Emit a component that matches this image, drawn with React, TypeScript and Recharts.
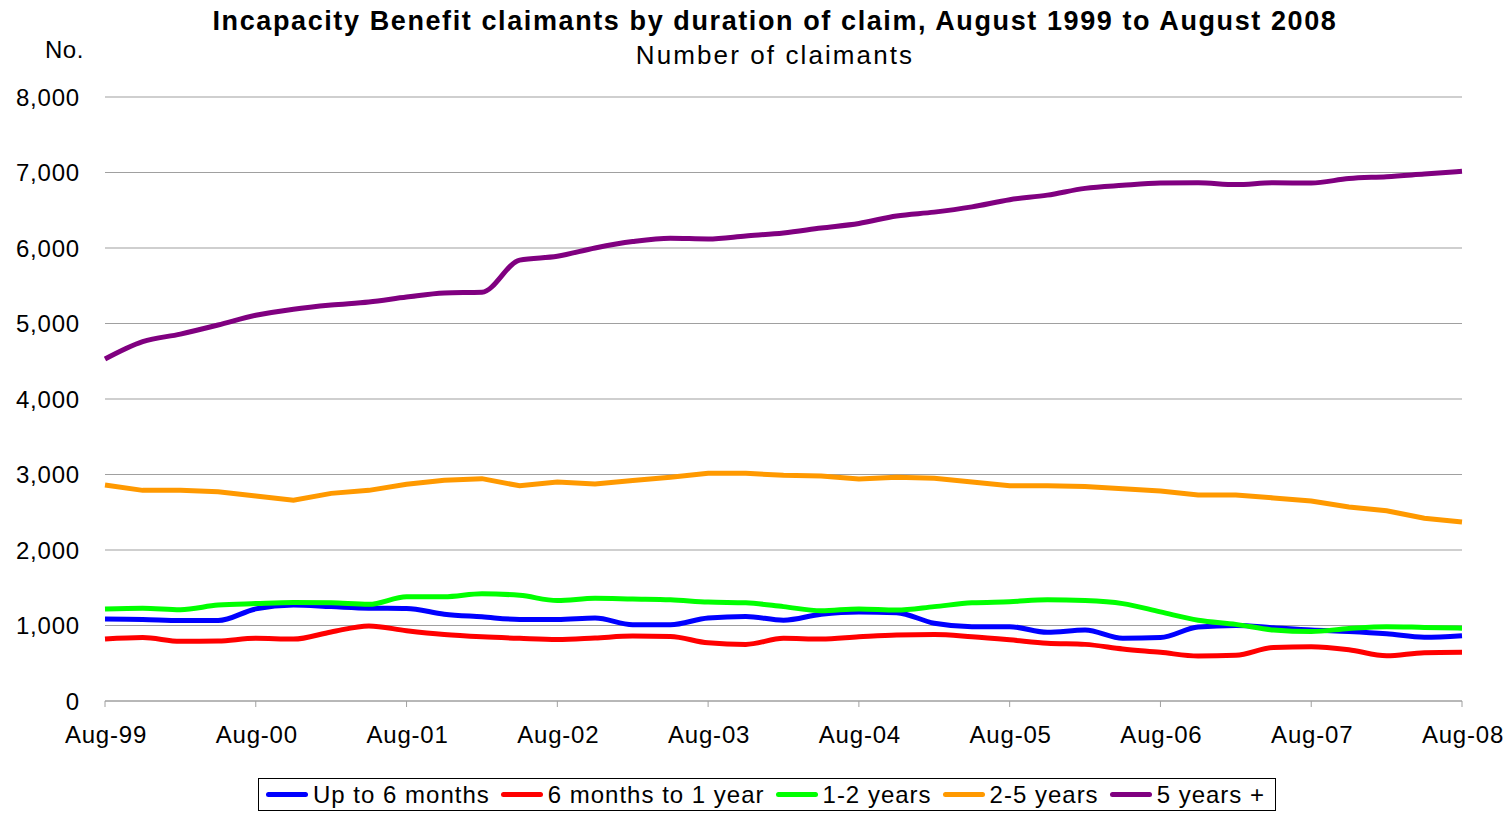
import React from "react";
import { LineChart, Line, XAxis, YAxis, CartesianGrid } from "recharts";

// quarterly, Aug 1999 to Aug 2008
const quarters = [
  "Aug-99", "Nov-99", "Feb-00", "May-00", "Aug-00", "Nov-00", "Feb-01", "May-01",
  "Aug-01", "Nov-01", "Feb-02", "May-02", "Aug-02", "Nov-02", "Feb-03", "May-03",
  "Aug-03", "Nov-03", "Feb-04", "May-04", "Aug-04", "Nov-04", "Feb-05", "May-05",
  "Aug-05", "Nov-05", "Feb-06", "May-06", "Aug-06", "Nov-06", "Feb-07", "May-07",
  "Aug-07", "Nov-07", "Feb-08", "May-08", "Aug-08",
];

const upTo6Months = [
  1085, 1080, 1065, 1065, 1220, 1270, 1250, 1230, 1225, 1150, 1115, 1080, 1080,
  1100, 1010, 1010, 1100, 1120, 1070, 1150, 1180, 1170, 1030, 985, 985, 910, 940,
  830, 840, 980, 1000, 970, 940, 920, 890, 845, 865,
];

const sixTo12Months = [
  820, 840, 790, 795, 830, 820, 915, 995, 930, 880, 850, 830, 815, 835, 860, 855,
  770, 750, 830, 820, 850, 875, 880, 850, 810, 765, 750, 690, 645, 595, 605, 710,
  720, 680, 600, 640, 645,
];

const oneToTwoYears = [
  1220, 1230, 1210, 1270, 1290, 1305, 1300, 1280, 1380, 1380, 1420, 1400, 1330,
  1360, 1350, 1340, 1310, 1300, 1250, 1195, 1220, 1205, 1250, 1300, 1315, 1340,
  1330, 1290, 1180, 1070, 1015, 940, 920, 960, 985, 975, 965,
];

const twoToFiveYears = [
  2860, 2790, 2790, 2770, 2715, 2660, 2750, 2790, 2870, 2925, 2945, 2850, 2900,
  2875, 2920, 2965, 3015, 3015, 2990, 2980, 2940, 2965, 2950, 2900, 2850, 2850,
  2840, 2810, 2780, 2730, 2730, 2690, 2650, 2570, 2520, 2420, 2370,
];

const fivePlusYears = [
  4530, 4760, 4860, 4980, 5110, 5190, 5245, 5285, 5350, 5405, 5415, 5840, 5890,
  6000, 6085, 6130, 6120, 6160, 6200, 6265, 6325, 6425, 6475, 6545, 6640, 6700,
  6790, 6830, 6860, 6865, 6840, 6865, 6860, 6920, 6945, 6980, 7015,
];

const yTicks = [0, 1000, 2000, 3000, 4000, 5000, 6000, 7000, 8000];

const SERIES = [
  { key: "a", name: "Up to 6 months", color: "#0000FF", values: upTo6Months, type: "monotone" },
  { key: "b", name: "6 months to 1 year", color: "#FF0000", values: sixTo12Months, type: "monotone" },
  { key: "c", name: "1-2 years", color: "#00FF00", values: oneToTwoYears, type: "monotone" },
  { key: "d", name: "2-5 years", color: "#FF9900", values: twoToFiveYears, type: "linear" },
  { key: "e", name: "5 years +", color: "#800080", values: fivePlusYears, type: "monotone" },
] as const;

const FONT = "'Liberation Sans', Arial, Helvetica, sans-serif";

export default function App() {
  const data = quarters.map((q, i) => {
    const row: Record<string, string | number> = { q };
    SERIES.forEach((s) => (row[s.key] = s.values[i]));
    return row;
  });

  return (
    <div style={{ position: "absolute", left: 0, top: 0, width: 1506, height: 815, background: "#fff", fontFamily: FONT, color: "#000" }}>
      <div style={{ position: "absolute", left: 44, width: 1462, top: 6, textAlign: "center", fontSize: 27, fontWeight: "bold", letterSpacing: 1.6 }}>
        Incapacity Benefit claimants by duration of claim, August 1999 to August 2008
      </div>
      <div style={{ position: "absolute", left: 44, width: 1462, top: 40, textAlign: "center", fontSize: 26, letterSpacing: 2.1 }}>
        Number of claimants
      </div>
      <div style={{ position: "absolute", left: 45, top: 36, fontSize: 24, letterSpacing: 0.5 }}>No.</div>

      <LineChart width={1506} height={815} data={data} margin={{ top: 97, right: 44, bottom: 84, left: 0 }}>
        <CartesianGrid vertical={false} stroke="#A0A0A0" strokeWidth={1.2} />
        <XAxis
          dataKey="q"
          interval={3}
          axisLine={{ stroke: "#A0A0A0" }}
          tickLine={{ stroke: "#A0A0A0" }}
          tickSize={6}
          tickMargin={19}
          height={30}
          tick={{ fill: "#000", fontSize: 24, fontFamily: FONT, letterSpacing: 0.8, dx: 1 }}
        />
        <YAxis
          domain={[0, 8000]}
          ticks={yTicks}
          width={105}
          axisLine={false}
          tickLine={false}
          tickMargin={19}
          tickFormatter={(v: number) => v.toLocaleString("en-GB")}
          tick={{ fill: "#000", fontSize: 24, fontFamily: FONT, letterSpacing: 0.8 }}
        />
        {SERIES.map((s) => (
          <Line
            key={s.key}
            dataKey={s.key}
            name={s.name}
            type={s.type}
            stroke={s.color}
            strokeWidth={5}
            dot={false}
            isAnimationActive={false}
          />
        ))}
      </LineChart>

      <div style={{ position: "absolute", left: 258, top: 778, width: 1009, height: 31, border: "1px solid #000", display: "flex", alignItems: "center", paddingLeft: 7, boxSizing: "content-box" }}>
        {SERIES.map((s) => (
          <div key={s.key} style={{ display: "flex", alignItems: "center", marginRight: 11 }}>
            <span style={{ display: "inline-block", width: 42, height: 5, borderRadius: 3, background: s.color, marginRight: 5 }} />
            <span style={{ fontSize: 24, letterSpacing: 1, whiteSpace: "nowrap" }}>{s.name}</span>
          </div>
        ))}
      </div>
    </div>
  );
}
